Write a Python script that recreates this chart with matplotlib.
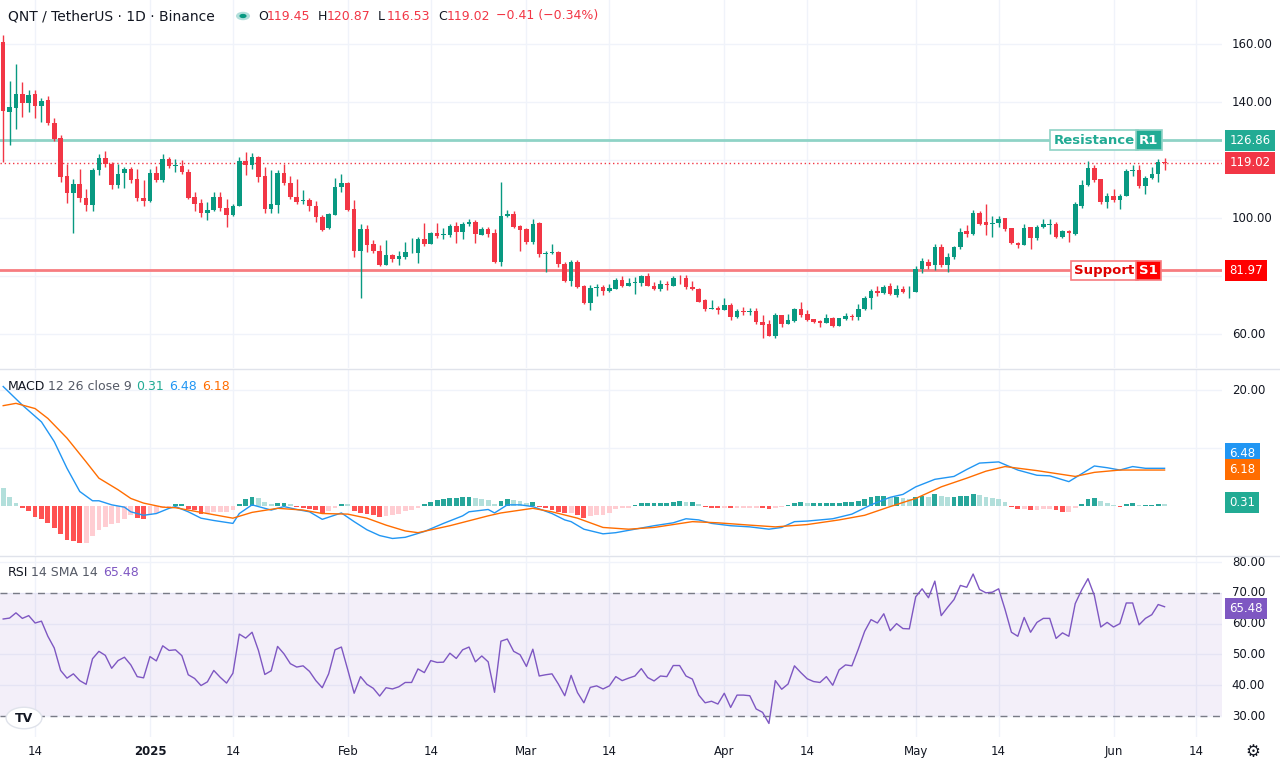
import numpy as np
import matplotlib.pyplot as plt
from matplotlib.patches import Circle

plt.rcParams['font.family'] = 'DejaVu Sans'

# --- daily candles, day 0 = 2024-12-09 ---
opens = [160.8,136.7,138,142.8,139.8,142.8,138.6,140.6,132.8,127.5,
         114.4,108.6,111.6,107,104.4,116.5,120.8,118.7,111.3,115.4,
         117,113.5,107,105.8,115.6,113,120.5,117.9,118,115.9,
         107.1,105.2,101.6,102.8,107.1,103.6,101,104.3,119.8,118.2,
         120.9,114.6,103.1,104.5,115.4,112.2,107.4,106,106.4,104.3,
         100.4,96.6,101.1,110.6,112,103.1,88.7,96.4,91,88.6,
         83.8,87.2,86,86.7,88.5,88,92.8,91.1,94.8,94,
         94.3,97.2,95.3,97.9,98.6,94.3,96.1,94.8,84.9,100.7,
         101.5,97.2,96.1,91.8,98.2,87.5,88,88.2,84,78.4,
         84.8,76.6,70.8,75.9,76.1,74.7,75.7,78.7,76.7,77.5,
         77.7,80,76.7,75.6,77.2,76.7,79.4,79.2,76.4,75.7,
         71.7,68.7,69.1,68.3,69.9,65.9,68,67.7,67.8,64.1,
         63.4,59.4,66.5,63.5,64.5,68.7,66.8,65.1,64.4,63.8,
         65.4,62.8,65.2,66.4,65.8,68.7,72.4,74.8,74.2,76.5,
         73.5,75.7,74.7,74.6,82.3,84.8,83.7,90.1,83.9,86.6,
         89.9,95.4,94.6,101.8,98.5,97.9,98.4,99.9,96.6,91.5,
         90.8,96.8,93.2,96.8,97.7,97.8,93.5,95.6,94.4,104.1,
         111.3,117.2,113.4,105.4,107.7,106.3,107.7,116.2,116.7,110.9,
         113.8,115.1,119.45]
highs = [163,147.2,153,147,144,144,141.5,142,134.5,128.5,
         118.5,113.5,117,110,117.2,122,123,119.5,118.5,117.7,
         117.5,117,113,117,118,122,121,120.2,120,117,
         109,106.5,105.5,109,109,106.5,105,121,122.8,122.5,
         121.5,117.5,116.7,116.5,118.5,114.5,113.5,109.8,106.8,106,
         101,101.8,113.8,115.1,112.5,106.2,97.8,97.5,92.5,90.7,
         92.5,87.7,88.6,91.7,93.2,93.5,98.3,95.3,98.3,96.5,
         97.8,98.5,98.7,99.7,99.5,96.8,96.8,96.3,112.4,102.8,
         102.5,97.6,96.5,99.8,98.5,88.5,91,88.5,84.7,85.5,
         85.7,76.8,76.8,77.3,77,77.3,79.5,80,79.5,79.8,
         80.5,81,78,78.8,78.2,80,80.5,80.3,78.2,75.8,
         72,71.6,69.7,72.3,70.7,68.8,69.5,69,69,66.5,
         64.8,67.2,66.5,66.8,69,70.9,68.3,65.2,65,66.8,
         66,65.6,67.4,66.9,70.3,73.2,75.5,76.7,77,77.5,
         77,76.5,76.5,83.5,86.4,86,91.2,91.2,88,90.5,
         96.5,97.5,102.7,102.6,104.8,100.7,100.8,100,96.6,91.8,
         98,97,97.5,99.6,99.6,98.6,96,96,105.5,113,
         119.7,118.2,113.4,108.5,110,108.2,116.8,118.3,118.2,114.5,
         117.5,120.3,120.87]
lows = [119.4,125.2,130.8,135,136.5,134.5,133,132,126.5,112.5,
        105.3,95,105.5,102.5,102.5,114.7,117.5,110,110.5,110.5,
        112,106,104,105.5,112.5,112.5,117.3,115.8,115.3,106.5,
        102.5,100.5,99.5,102.5,102.5,96.8,100.6,104,114.8,117,
        112.5,101.8,101.8,101.8,111.5,106.5,104.8,105,102.5,98.5,
        95.5,96.3,101,109,102.5,86.5,72.5,88.2,87.8,83.5,
        83.7,84.7,83.8,86,87.8,84.5,90.5,91,93,92.8,
        93.5,91.3,92.8,97.3,91.3,94.3,93.5,84.5,83.5,100.2,
        96.5,88.5,91.2,91,86.5,81.5,87.5,83.2,78,76.5,
        76,70.2,68.3,73.1,73.5,74.4,75.5,76.3,76.5,73.8,
        76.6,76.7,75.3,75,75.3,76.6,77.4,75.7,75.2,71,
        68,68.7,67,68.3,65,65.5,66.5,66.5,63.5,58.7,
        59.4,58.6,62.6,63.5,64.3,65.9,64.6,63.8,62.3,63.8,
        62.6,62.8,64.8,64.9,64.8,68.3,68.5,73.3,73.8,73.5,
        72.8,74.3,72.4,74.6,81.2,82.6,82,83.2,81.4,86,
        89.5,93.6,94.3,97.6,94.1,93.5,97,95.5,91,89.7,
        90.6,89.5,92.6,96.5,94.4,93.2,93.3,91.7,94,103.5,
        111,112.5,105,103.5,105.5,103.3,107.5,114.5,110.5,108.2,
        113.5,112.6,116.53]
closes = [137,138.3,142.8,139.8,142.6,138.6,140.4,132.8,127.3,114.2,
          108.6,111.6,106.9,104.4,116.7,120.8,118.5,111.3,115.2,117,
          113.3,106.9,106,115.6,113,120.5,117.8,118.2,115.9,106.9,
          105,101.6,102.8,107.1,103.6,101,104.3,119.8,118.2,120.9,
          114.3,103.1,104.7,115.4,112,107.2,105.7,106.2,104,100.2,
          96,101.3,110.7,112,102.9,88.7,96.1,90.8,88.5,83.8,
          87.2,86,86.8,88.4,88.7,92.8,91,94.8,93.9,94.5,
          97.2,95.3,97.9,98.6,94.6,96.1,94.6,84.9,100.7,101.4,
          97,95.9,91.8,98.1,87.5,88,88.4,84,78.4,84.8,
          76.3,70.8,75.9,76.1,74.7,75.9,78.7,76.7,77.5,77.9,
          80,76.7,75.6,77.2,76.8,79.2,79.2,76.3,75.6,71.1,
          68.7,69.1,68.3,69.9,65.9,67.8,67.6,67.9,64.1,63.1,
          59.4,66.5,63.5,64.7,68.7,66.5,64.7,64.1,63.8,65.4,
          62.8,65.4,66.4,65.8,68.8,72.4,74.9,74.2,76.4,73.9,
          75.5,74.6,75,82.3,85.2,83.6,90.1,83.9,86.6,90.1,
          95.1,94.6,101.8,98.1,97.7,98.1,99.6,96.3,91.5,90.8,
          96.6,93.2,96.8,97.8,97.9,93.5,95.5,94.7,104.8,111.3,
          117.2,113.1,105.4,107.7,106.3,107.7,116.2,116.4,110.9,113.9,
          115.3,119.3,119.02]

resistance = 126.86
support = 81.97
last_close = 119.02

# --- MACD 12 26 9 ---
macd_days = [0,3,6,8,10,12,14,15,17,19,20,22,24,26,27,29,31,33,36,37,39,42,44,46,48,50,53,55,57,59,61,63,66,
             69,72,73,76,77,79,81,83,86,88,89,91,94,96,99,102,105,107,109,111,114,117,120,122,124,126,
             130,133,136,139,141,143,146,149,151,153,156,159,162,164,167,171,173,175,177,179,182]
macd_vals = [20.6,17.4,14.5,11.1,6.5,2.5,0.9,0.9,0.2,-0.2,-1,-1.6,-1.3,-0.4,-0.1,-1,-2.1,-2.5,-3,-1.3,0.2,-0.7,-0.1,-0.6,-1,-2.3,-1.2,-2.7,-4.1,-5.1,-5.6,-5.4,-4.4,
             -3,-1.7,-1,-0.6,-1.2,0.2,0.2,-0.1,-1.3,-2.4,-2.7,-4,-4.8,-4.6,-4,-3.4,-2.9,-2.2,-2.4,-3,-3.4,-3.6,-4,-3.7,-2.7,-2.6,
             -2.2,-1.4,0.2,1.5,2,3.3,4.6,5.1,6.3,7.4,7.6,6.2,5.3,5.2,4.2,6.9,6.6,6.2,6.8,6.5,6.5]
signal_days = [0,2,5,7,10,13,15,18,20,22,25,27,31,36,39,43,47,50,54,57,60,63,65,70,76,78,83,86,90,94,98,102,
               108,112,117,121,126,131,135,139,143,147,151,154,157,162,168,171,175,182]
signal_vals = [17.3,17.7,16.8,15.1,11.7,7.6,4.8,2.8,1.3,0.5,-0.2,-0.3,-1.1,-2.1,-1.1,-0.4,-0.7,-1.3,-1.4,-2.1,-3.3,-4.3,-4.6,-3.4,-1.7,-1.2,-0.4,-1,-2.1,-3.7,-4,-3.7,
               -2.7,-2.9,-3.3,-3.6,-3.2,-2.4,-1.6,-0.1,1.3,3.3,4.8,6,6.8,6.1,5.1,5.8,6.2,6.2]
hist_vals = [3.16,1.61,0.57,-0.4,-0.86,-1.84,-2.18,-2.87,-3.74,-4.89,
             -5.92,-6.03,-6.32,-6.32,-5.17,-4.19,-3.56,-3.16,-2.87,-2.3,
             -1.55,-2.13,-2.3,-1.61,-1.15,-0.4,-0.29,0.29,0.29,-0.46,
             -0.75,-1.32,-1.15,-1.09,-1.09,-0.98,-0.69,0.4,1.15,1.61,
             1.44,0.69,0.29,0.57,0.57,0.29,-0.17,-0.29,-0.46,-0.69,
             -1.15,-0.86,-0.29,0.4,0.29,-0.86,-1.15,-1.32,-1.55,-1.9,
             -1.72,-1.61,-1.44,-0.86,-0.75,-0.3,0.29,0.75,1.09,1.26,
             1.44,1.44,1.61,1.61,1.44,1.26,1.03,0.4,0.92,1.26,
             1.09,0.92,0.57,0.75,-0.11,-0.4,-0.69,-0.98,-1.26,-1.15,
             -1.49,-2.01,-1.72,-1.61,-1.49,-1.15,-0.57,-0.4,-0.29,0.23,
             0.57,0.57,0.57,0.57,0.57,0.75,0.92,0.75,0.75,0.4,
             -0.11,-0.29,-0.4,-0.29,-0.4,-0.29,-0.29,-0.29,-0.29,-0.4,
             -0.57,-0.29,-0.11,0.23,0.57,0.75,0.57,0.57,0.57,0.57,
             0.57,0.57,0.75,0.75,0.92,1.26,1.61,1.78,1.78,1.61,
             1.61,1.44,1.26,1.61,1.78,1.61,2.13,1.78,1.61,1.61,
             1.78,1.78,2.13,1.95,1.61,1.44,1.26,0.75,-0.11,-0.57,
             -0.57,-0.75,-0.75,-0.57,-0.57,-0.75,-0.98,-0.98,-0.4,0.4,
             1.26,1.44,0.92,0.57,0.23,-0.11,0.4,0.57,0.23,0.23,
             0.23,0.4,0.31]

# --- RSI 14 ---
rsi_vals = [61.5,61.8,63.5,61.7,62.6,60.2,60.8,55.9,52.1,44.8,
            42.3,43.7,41.5,40.3,48.6,51,49.7,45.5,48,49.1,
            46.6,42.8,42.4,49.3,47.9,52.8,51.3,51.5,49.6,43.4,
            42.2,39.9,41.1,44.8,42.6,40.7,43.9,56.6,55.3,57.2,
            51.3,43.5,44.7,52.6,50.2,47,45.9,46.3,44.5,41.5,
            39.2,43.7,51.5,52.4,45,37.4,42.8,40.3,39,36.5,
            39.2,38.8,39.5,40.9,40.9,45.3,44.1,48,47.4,47.5,
            50.4,48.7,51.5,52.4,47.6,49.5,47.6,37.7,54.3,55,
            51,49.9,46.1,51.7,43,43.4,43.7,40.4,36.6,43.2,
            37.6,34.3,39.3,39.8,38.8,39.8,42.8,41.5,42.3,43,
            45.4,42.5,41.4,43,42.8,46.4,46.4,43,42,36.8,
            34.3,34.8,33.9,37.4,32.8,36.8,36.8,36.6,32.3,31.2,
            27.6,41.5,38.7,40.4,46.3,44.1,42.1,41.2,40.9,42.8,
            40,45,46.6,46.3,51.7,57.5,61.3,60.2,63.2,57.7,
            60,58.4,58.3,68.7,71.3,68.4,73.8,62.6,65.3,67.8,
            72.4,71.8,76.1,71.1,70,70.2,71.3,64.6,57.2,55.9,
            62,57.2,60.4,61.7,61.7,55.2,57,55.9,66.5,70.9,
            74.6,69.1,58.9,60.4,58.9,60,66.7,66.7,59.6,61.7,
            62.9,66.2,65.48]

# date ticks (day offsets from 2024-12-09)
tick_days = [5, 23, 36, 54, 67, 82, 95, 113, 126, 143, 156, 174, 187]
tick_labels = ['14', '2025', '14', 'Feb', '14', 'Mar', '14', 'Apr', '14', 'May', '14', 'Jun', '14']

UP, DOWN = '#089981', '#f23645'
GRID = '#f0f3fa'
TXT = '#131722'

W, H = 1280, 768
fig = plt.figure(figsize=(12.8, 7.68), dpi=100)
fig.patch.set_facecolor('white')


def pane(top, bottom):
    return fig.add_axes([0, 1 - bottom / H, 1222 / W, (bottom - top) / H])


ax = pane(0, 368)
ax_m = pane(370, 555)
ax_r = pane(556, 737)

days = np.arange(len(closes))
xlim = (-0.5, 191)
for a in (ax, ax_m, ax_r):
    a.set_xlim(*xlim)
    a.set_xticks(tick_days)
    a.grid(True, color=GRID, lw=1)
    a.tick_params(length=0, labelbottom=False, labelleft=False)
    for s in a.spines.values():
        s.set_visible(False)
    a.set_axisbelow(True)


def right_label(a, y, text, color=TXT, fc=None, tc='white'):
    tr = a.get_yaxis_transform()
    if fc is None:
        a.text(1.008, y, text, transform=tr, va='center', ha='left', fontsize=8.5, color=color, clip_on=False)
    else:
        a.text(1.006, y, text, transform=tr, va='center', ha='left', fontsize=8.5, color=tc, clip_on=False,
               bbox=dict(boxstyle='square,pad=0.35', fc=fc, ec='none'))


# ---- price pane ----
ax.set_ylim(48.3, 175.2)
ax.set_yticks([60, 80, 100, 120, 140, 160])
# 80 and 120 labels sit under the level boxes
for v in [60, 100, 140, 160]:
    right_label(ax, v, f'{v:.2f}')

o, c, hi, lo = map(np.array, (opens, closes, highs, lows))
col = np.where(c >= o, UP, DOWN)
ax.vlines(days, lo, hi, colors=col, lw=1, zorder=3)
body = np.abs(c - o)
body = np.where(body < 0.3, 0.3, body)
ax.bar(days, body, bottom=np.minimum(o, c), width=0.72, color=col, zorder=4)

ax.axhline(resistance, color='#8fd3c6', lw=2, zorder=2)
ax.axhline(support, color='#f77c80', lw=2, zorder=2)
ax.axhline(last_close, color=DOWN, lw=1, ls=(0, (1, 2)), zorder=2)

ax.text(177.3, resistance, 'Resistance', ha='right', va='center', fontsize=9.5, fontweight='bold',
        color='#22ab94', zorder=6, bbox=dict(boxstyle='square,pad=0.25', fc='white', ec='#8fd3c6', lw=1.2))
ax.text(178.0, resistance, 'R1', ha='left', va='center', fontsize=9.5, fontweight='bold',
        color='white', zorder=6, bbox=dict(boxstyle='square,pad=0.25', fc='#22ab94', ec='#8fd3c6', lw=1.2))
ax.text(177.3, support, 'Support', ha='right', va='center', fontsize=9.5, fontweight='bold',
        color='#e00000', zorder=6, bbox=dict(boxstyle='square,pad=0.25', fc='white', ec='#f77c80', lw=1.2))
ax.text(178.0, support, 'S1', ha='left', va='center', fontsize=9.5, fontweight='bold',
        color='white', zorder=6, bbox=dict(boxstyle='square,pad=0.25', fc='#ff0000', ec='#f77c80', lw=1.2))

right_label(ax, resistance, f'{resistance:.2f}', fc='#22ab94')
right_label(ax, last_close, f'{last_close:.2f}', fc=DOWN)
right_label(ax, support, f'{support:.2f}', fc='#ff0000')

# ---- MACD pane ----
ax_m.set_ylim(-8.45, 23.45)
ax_m.set_yticks([10, 20])
right_label(ax_m, 20, '20.00')
hv = np.array(hist_vals)
prev = np.r_[hv[0] + 1, hv[:-1]]
hcol = np.where(hv >= 0, np.where(hv >= prev, '#26a69a', '#b2dfdb'),
                np.where(hv < prev, '#ff5252', '#ffcdd2'))
ax_m.bar(days, hv, width=0.75, color=hcol, zorder=2)
ax_m.plot(macd_days, macd_vals, color='#2196f3', lw=1, zorder=3)
ax_m.plot(signal_days, signal_vals, color='#ff6d00', lw=1, zorder=3)
right_label(ax_m, 9.1, '6.48', fc='#2196f3')
right_label(ax_m, 6.3, '6.18', fc='#ff6d00')
right_label(ax_m, 0.6, f'{hist_vals[-1]:.2f}', fc='#22ab94')

# ---- RSI pane ----
ax_r.set_ylim(23.2, 81.95)
ax_r.set_yticks([30, 40, 50, 60, 70, 80])
for v in [30, 40, 50, 60, 70, 80]:
    right_label(ax_r, v, f'{v:.2f}')
ax_r.axhspan(30, 70, color='#7e57c2', alpha=0.09, lw=0, zorder=1)
ax_r.axhline(70, color='#787b86', lw=1, ls=(0, (5, 4)), zorder=2)
ax_r.axhline(30, color='#787b86', lw=1, ls=(0, (5, 4)), zorder=2)
ax_r.plot(days, rsi_vals, color='#7e57c2', lw=1, zorder=3)
right_label(ax_r, 65.0, f'{rsi_vals[-1]:.2f}', fc='#7e57c2')

# separators
for y in (369, 555.5):
    fig.add_artist(plt.Line2D([0, 1], [1 - y / H, 1 - y / H], color='#e0e3eb', lw=1))

# date labels
for d, lab in zip(tick_days, tick_labels):
    ax_r.text(d, -0.08, lab, transform=ax_r.get_xaxis_transform(), ha='center', va='center',
              fontsize=8.5, color=TXT, fontweight='bold' if lab == '2025' else 'normal')


def ftext(x, y, s, **kw):
    fig.text(x / W, 1 - y / H, s, va='center', **kw)


# header
ftext(8, 16, 'QNT / TetherUS · 1D · Binance', fontsize=10, color=TXT)
fig.add_artist(Circle((243 / W, 1 - 16 / H), 0.0055, transform=fig.transFigure, fc='#b2dfdb', ec='none'))
fig.add_artist(Circle((243 / W, 1 - 16 / H), 0.0028, transform=fig.transFigure, fc='#089981', ec='none'))
xs = 258
for lab, val in [('O', '119.45'), ('H', '120.87'), ('L', '116.53'), ('C', '119.02')]:
    ftext(xs, 16, lab, fontsize=9, color=TXT)
    ftext(xs + 9, 16, val, fontsize=9, color=DOWN)
    xs += 60
ftext(xs - 2, 16, '−0.41 (−0.34%)', fontsize=9, color=DOWN)

ftext(8, 386, 'MACD', fontsize=9, color=TXT)
ftext(48, 386, '12 26 close 9', fontsize=9, color='#555a66')
ftext(136, 386, '0.31', fontsize=9, color='#22ab94')
ftext(169, 386, '6.48', fontsize=9, color='#2196f3')
ftext(202, 386, '6.18', fontsize=9, color='#ff6d00')

ftext(8, 572, 'RSI', fontsize=9, color=TXT)
ftext(31, 572, '14 SMA 14', fontsize=9, color='#555a66')
ftext(103, 572, '65.48', fontsize=9, color='#7e57c2')

# logo and settings glyph
fig.add_artist(Circle((24 / W, 1 - 718 / H), 0.014, transform=fig.transFigure, fc='white', ec='#e0e3eb'))
ftext(24, 718, 'TV', fontsize=9, fontweight='bold', color=TXT, ha='center')
ftext(1253, 752, '⚙', fontsize=12, color=TXT, ha='center')

fig.savefig('out.png', dpi=100)
